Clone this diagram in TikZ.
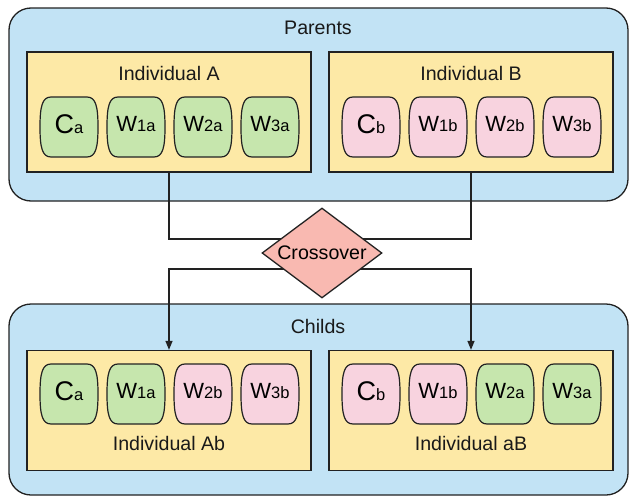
\documentclass[tikz,border=0pt]{standalone}
\usepackage{fontspec}
\setmainfont{Liberation Sans}
\usetikzlibrary{shapes.geometric,arrows.meta}

\definecolor{groupblue}{HTML}{C2E3F5}
\definecolor{indivyellow}{HTML}{FDE9A6}
\definecolor{genegreen}{HTML}{C6E6AD}
\definecolor{genepink}{HTML}{F8D3DF}
\definecolor{xovered}{HTML}{F9B9B1}
\definecolor{inkline}{HTML}{222222}

\tikzset{
  groupbox/.style={draw=inkline, line width=1.3pt, fill=groupblue, rounded corners=22pt,
    minimum width=619pt, inner sep=0pt},
  indivbox/.style={draw=inkline, line width=1.3pt, fill=indivyellow,
    minimum width=284pt, minimum height=120pt, inner sep=0pt},
  genepath/.style={draw=inkline, line width=1.2pt},
  genetext/.style={inner sep=0pt, text=black},
  lbl/.style={inner sep=0pt, font=\fontsize{19.6}{21}\selectfont, text=black!90},
  xnode/.style={diamond, draw=inkline, line width=1.3pt, fill=xovered, inner sep=0pt,
    minimum width=120pt, minimum height=90pt, aspect=1.333,
    font=\fontsize{19.6}{21}\selectfont},
  link/.style={draw=inkline, line width=1.3pt},
  arrowlink/.style={link, -{Triangle[width=7pt,length=9pt]}}
}

% one gene: rounded tile with slightly bulging sides
% #1 node name, #2 x, #3 y, #4 fill, #5 big letter, #6 size of big letter, #7 index
\newcommand\genetile[7]{%
  \begin{scope}[shift={(#2,#3)}]
    \draw[genepath, fill=#4] (-18,-30) -- (18,-30)
      .. controls (27,-30) and (29,-20) .. (29,0)
      .. controls (29,20) and (27,30) .. (18,30)
      -- (-18,30)
      .. controls (-27,30) and (-29,20) .. (-29,0)
      .. controls (-29,-20) and (-27,-30) .. (-18,-30) -- cycle;
  \end{scope}
  \node[genetext] (#1) at (#2,#3-3)
    {{\fontsize{#6}{#6}\selectfont #5}{\fontsize{16.5}{17}\selectfont #7}};%
}

\begin{document}
\begin{tikzpicture}[x=1pt,y=-1pt]
  \useasboundingbox (0,0) rectangle (630,498);

  % population groups
  \node[groupbox, minimum height=193pt] (parents) at (318.5,104.5) {};
  \node[groupbox, minimum height=191pt] (childs) at (318.5,399.5) {};
  \node[lbl] (parentslbl) at (318,28) {Parents};
  \node[lbl] (childslbl) at (318,326) {Childs};

  % individuals
  \node[indivbox] (iA) at (169,112) {};
  \node[indivbox] (iB) at (471,112) {};
  \node[indivbox] (iAb) at (169,410.5) {};
  \node[indivbox] (iaB) at (471,410.5) {};
  \node[lbl] (iAlbl) at (169,73) {Individual A};
  \node[lbl] (iBlbl) at (471,73) {Individual B};
  \node[lbl] (iAblbl) at (169,443) {Individual Ab};
  \node[lbl] (iaBlbl) at (471,443) {Individual aB};

  % parent genes
  \genetile{pa1}{69}{127}{genegreen}{C}{27}{a}
  \genetile{pa2}{136}{127}{genegreen}{W}{22}{1a}
  \genetile{pa3}{203}{127}{genegreen}{W}{22}{2a}
  \genetile{pa4}{270}{127}{genegreen}{W}{22}{3a}
  \genetile{pb1}{371}{127}{genepink}{C}{27}{b}
  \genetile{pb2}{438}{127}{genepink}{W}{22}{1b}
  \genetile{pb3}{505}{127}{genepink}{W}{22}{2b}
  \genetile{pb4}{572}{127}{genepink}{W}{22}{3b}

  % child genes
  \genetile{ca1}{69}{394}{genegreen}{C}{27}{a}
  \genetile{ca2}{136}{394}{genegreen}{W}{22}{1a}
  \genetile{ca3}{203}{394}{genepink}{W}{22}{2b}
  \genetile{ca4}{270}{394}{genepink}{W}{22}{3b}
  \genetile{cb1}{371}{394}{genepink}{C}{27}{b}
  \genetile{cb2}{438}{394}{genepink}{W}{22}{1b}
  \genetile{cb3}{505}{394}{genegreen}{W}{22}{2a}
  \genetile{cb4}{572}{394}{genegreen}{W}{22}{3a}

  % crossover routing
  \coordinate (joinin) at (322,239);
  \coordinate (joinout) at (322,269);
  \draw[link] (iA.south) |- (joinin) -| (iB.south);
  \draw[arrowlink] (joinout) -| (iAb.north);
  \draw[arrowlink] (joinout) -| (iaB.north);

  \node[xnode] (xover) at (322,253) {Crossover};
\end{tikzpicture}
\end{document}
